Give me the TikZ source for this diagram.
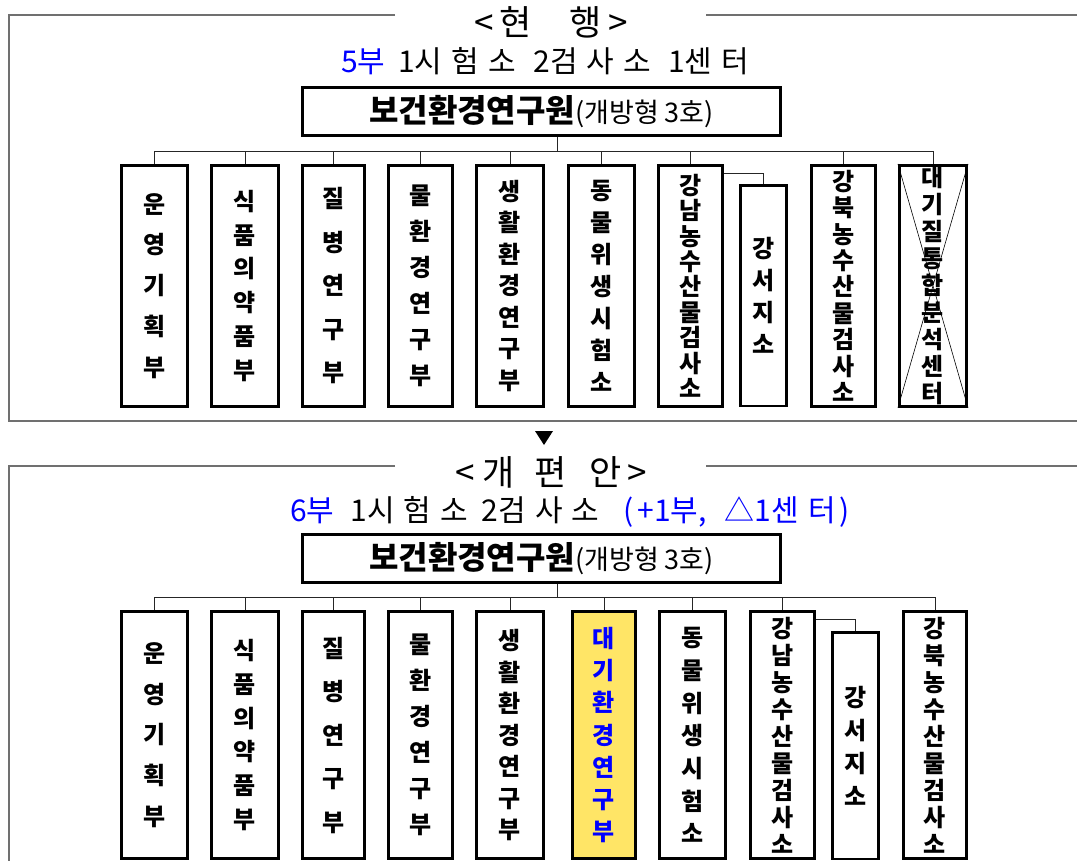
\documentclass[tikz,border=0pt]{standalone}
\usepackage{fontspec}
\setmainfont{Noto Sans CJK KR}
\definecolor{deptblue}{RGB}{0,0,255}
\definecolor{newdept}{RGB}{255,229,102}
\definecolor{framegray}{RGB}{112,112,112}
\newcommand\widespaces{\spaceskip=9pt\relax}

\begin{document}
\begin{tikzpicture}[x=1pt, y=-1pt,
    dept/.style={draw, line width=2.6pt, inner sep=0pt, anchor=north, align=center,
      font=\bfseries\fontsize{24}{#1}\selectfont},
    dept/.default=34,
    rowtop/.style={minimum height=241pt},
    rowbot/.style={minimum height=247pt},
    hq/.style={draw, line width=2.6pt, minimum width=478pt, minimum height=48pt,
      inner sep=0pt, font=\fontsize{32}{32}\selectfont},
    heading/.style={inner sep=0pt, font=\fontsize{35}{35}\selectfont},
    subhead/.style={inner sep=0pt, font=\fontsize{30}{30}\selectfont,
      execute at begin node=\widespaces},
    link/.style={line width=0.9pt, black!85},
    frame/.style={line width=1.6pt, framegray}]
    \useasboundingbox (0,0) rectangle (1077,861);

    % current organisation
    \draw[frame] (395,15) -- (9,15) -- (9,421) -- (1077,421);
    \draw[frame] (706,15) -- (1077,15);
    \node[heading] (tTitle) at (551,22) {<\hspace{6pt}현\hspace{38pt}행\hspace{6pt}>};
    \node[subhead] (tCount) at (545,61) {\textcolor{deptblue}{5부}\hspace{13pt}1시 험 소\hspace{18pt}2검 사 소\hspace{17pt}1센 터};
    \node[hq] (tHQ) at (541.5,111.5) {{\bfseries 보건환경연구원}{\fontsize{27}{27}\selectfont(개방형 3호)}};

    \node[dept=40.8, rowtop, minimum width=66.5pt] (tA1) at (154.5,164) {운\\영\\기\\획\\부};
    \node[dept=33.8, rowtop, minimum width=67.5pt] (tA2) at (245,164) {식\\품\\의\\약\\품\\부};
    \node[dept=43.5, rowtop, minimum width=62.5pt] (tA3) at (333.5,164) {질\\병\\연\\구\\부};
    \node[dept=36, rowtop, minimum width=64.5pt] (tA4) at (420.5,164) {물\\환\\경\\연\\구\\부};
    \node[dept=31.5, rowtop, minimum width=67.5pt] (tA5) at (510,164) {생\\활\\환\\경\\연\\구\\부};
    \node[dept=32, rowtop, minimum width=66.5pt] (tA6) at (601.5,164) {동\\물\\위\\생\\시\\험\\소};
    \node[dept=25.4, rowtop, minimum width=64.5pt] (tA7) at (690.5,164) {강\\남\\농\\수\\산\\물\\검\\사\\소};
    \node[dept=26.4, rowtop, minimum width=64.5pt] (tA8) at (843.5,164) {강\\북\\농\\수\\산\\물\\검\\사\\소};
    \node[dept=27, rowtop, minimum width=67.5pt] (tA9) at (933,164) {대\\기\\질\\통\\합\\분\\석\\센\\터};
    \node[dept=32, minimum width=46.5pt, minimum height=220.5pt] (tS) at (763.5,184.3) {강\\서\\지\\소};

    \coordinate (tBus) at (557,151);
    \draw[link] (tHQ.south -| tBus) -- (tBus);
    \draw[link] (tA1.north |- tBus) -- (tA9.north |- tBus);
    \foreach \n in {1,...,9}
        \draw[link] (tA\n.north) -- (tA\n.north |- tBus);
    \draw[link] ([yshift=-9pt]tA7.north east) -| (tS.north);
    % closed centre
    \draw[line width=0.6pt] (tA9.north west) -- (tA9.south east)
        (tA9.north east) -- (tA9.south west);

    \fill (535,431) -- (553,431) -- (544,445) -- cycle;

    % reorganisation
    \draw[frame] (395,466) -- (9,466) -- (9,861);
    \draw[frame] (706,466) -- (1077,466);
    \node[heading] (bTitle) at (551,472) {<\hspace{8pt}개\hspace{20pt}편\hspace{22pt}안\hspace{6pt}>};
    \node[subhead] (bCount) at (570,512) {\textcolor{deptblue}{6부}\hspace{16pt}1시 험 소\hspace{14pt}2검 사 소\hspace{24pt}\textcolor{deptblue}{(\hspace{4pt}+1부,\hspace{18pt}△1센 터\hspace{4pt})}};
    \node[hq] (bHQ) at (541.5,558.5) {{\bfseries 보건환경연구원}{\fontsize{27}{27}\selectfont(개방형 3호)}};

    \node[dept=40.8, rowbot, minimum width=66.5pt] (bA1) at (154.5,610.3) {운\\영\\기\\획\\부};
    \node[dept=33.8, rowbot, minimum width=67.5pt] (bA2) at (245,610.3) {식\\품\\의\\약\\품\\부};
    \node[dept=43.5, rowbot, minimum width=62.5pt] (bA3) at (333.5,610.3) {질\\병\\연\\구\\부};
    \node[dept=36, rowbot, minimum width=64.5pt] (bA4) at (420.5,610.3) {물\\환\\경\\연\\구\\부};
    \node[dept=31.5, rowbot, minimum width=67.5pt] (bA5) at (510,610.3) {생\\활\\환\\경\\연\\구\\부};
    \node[dept=32.3, rowbot, minimum width=63.5pt, fill=newdept, text=deptblue] (bA6) at (604,610.3) {대\\기\\환\\경\\연\\구\\부};
    \node[dept=32.7, rowbot, minimum width=66.5pt] (bA7) at (692.5,610.3) {동\\물\\위\\생\\시\\험\\소};
    \node[dept=27, rowbot, minimum width=64.5pt] (bA8) at (782.5,610.3) {강\\남\\농\\수\\산\\물\\검\\사\\소};
    \node[dept=27, rowbot, minimum width=63.5pt] (bA9) at (935,610.3) {강\\북\\농\\수\\산\\물\\검\\사\\소};
    \node[dept=33, minimum width=46.5pt, minimum height=226.4pt] (bS) at (855.5,631.3) {강\\서\\지\\소};

    \coordinate (bBus) at (557,597);
    \draw[link] (bHQ.south -| bBus) -- (bBus);
    \draw[link] (bA1.north |- bBus) -- (bA9.north |- bBus);
    \foreach \n in {1,...,9}
        \draw[link] (bA\n.north) -- (bA\n.north |- bBus);
    \draw[link] ([yshift=-9pt]bA8.north east) -| (bS.north);
\end{tikzpicture}
\end{document}
